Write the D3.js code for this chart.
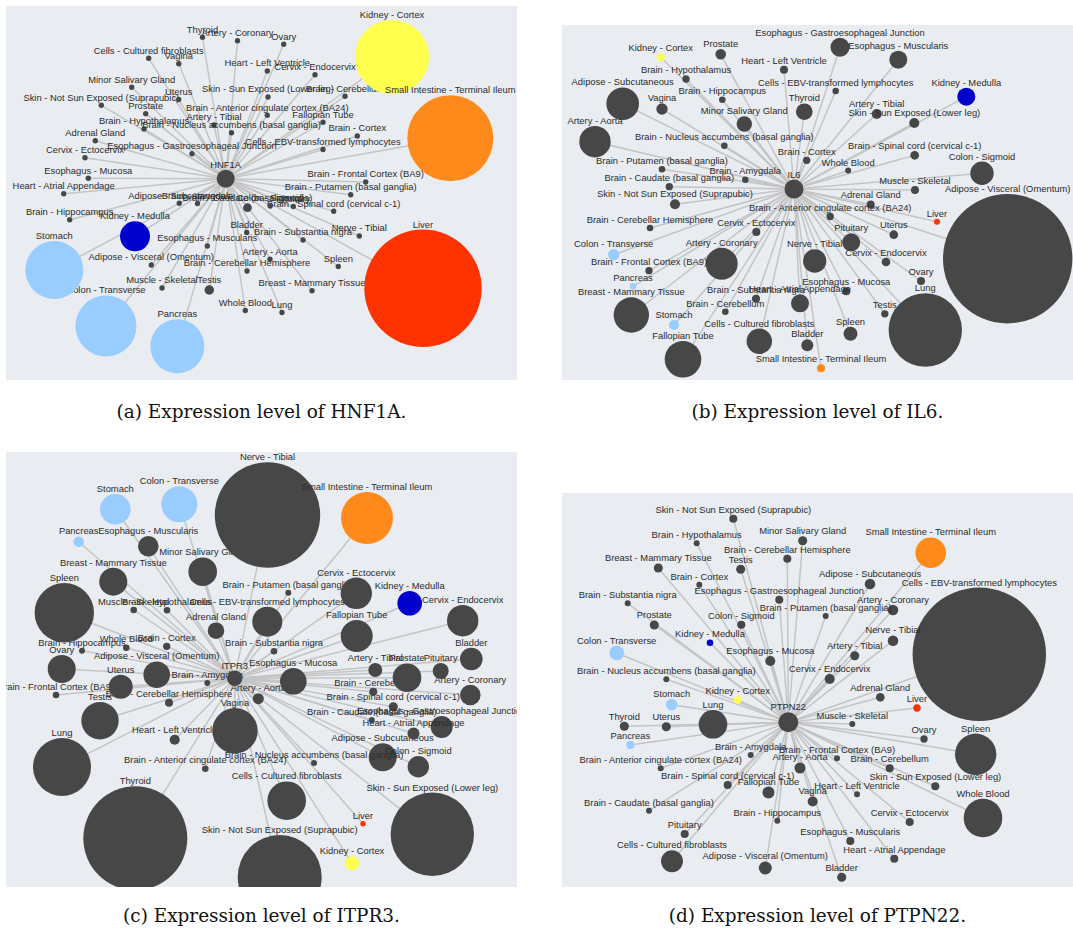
<!DOCTYPE html>
<html><head><meta charset="utf-8">
<script src="https://cdn.jsdelivr.net/npm/d3@7/dist/d3.min.js"></script>
<style>html,body{margin:0;padding:0;background:#fff;}svg{display:block;}</style>
</head><body>
<svg id="chart" width="1073" height="930"></svg>
<script>
// ---------------- DATA ----------------
const tissues = [
 "Adipose - Subcutaneous","Adipose - Visceral (Omentum)","Adrenal Gland","Artery - Aorta","Artery - Coronary",
 "Artery - Tibial","Bladder","Brain - Amygdala","Brain - Anterior cingulate cortex (BA24)","Brain - Caudate (basal ganglia)",
 "Brain - Cerebellar Hemisphere","Brain - Cerebellum","Brain - Cortex","Brain - Frontal Cortex (BA9)","Brain - Hippocampus",
 "Brain - Hypothalamus","Brain - Nucleus accumbens (basal ganglia)","Brain - Putamen (basal ganglia)","Brain - Spinal cord (cervical c-1)","Brain - Substantia nigra",
 "Breast - Mammary Tissue","Cells - EBV-transformed lymphocytes","Cells - Cultured fibroblasts","Cervix - Ectocervix","Cervix - Endocervix",
 "Colon - Sigmoid","Colon - Transverse","Esophagus - Gastroesophageal Junction","Esophagus - Mucosa","Esophagus - Muscularis",
 "Fallopian Tube","Heart - Atrial Appendage","Heart - Left Ventricle","Kidney - Cortex","Kidney - Medulla",
 "Liver","Lung","Minor Salivary Gland","Muscle - Skeletal","Nerve - Tibial",
 "Ovary","Pancreas","Pituitary","Prostate","Skin - Not Sun Exposed (Suprapubic)",
 "Skin - Sun Exposed (Lower leg)","Small Intestine - Terminal Ileum","Spleen","Stomach","Testis",
 "Thyroid","Uterus","Vagina","Whole Blood"
];

const genes = ["HNF1A", "IL6", "ITPR3", "PTPN22"];
const captions = ["(a) Expression level of HNF1A.", "(b) Expression level of IL6.",
                  "(c) Expression level of ITPR3.", "(d) Expression level of PTPN22."];

// hub (gene) node layout coordinates
const hubX = [219.7, 232, 228.7, 226.3];
const hubY = [172.7, 164, 226.3, 229.3];

// HNF1A layout + expression
const hnf1aX = [173.3,145.3,89.3,264,231.5,208,240.7,191.5,261.3,241.5,241,339,351.3,359.7,63.7,138,225.5,344.7,327.7,297,
 306,317,142.7,79,309,264.2,100,186,82.3,201.3,317,57.7,261.3,386,129,417,276,125.7,156,353.3,
 277.7,171.3,287.3,139.7,95.3,262,444.3,332.3,48.3,203.3,196.5,172.7,172.8,239.3];
const hnf1aY = [197.3,259,134.7,253.3,34.7,119,226.5,197.5,109.2,201.7,265,90.3,130,176,213.7,123,126.7,188.7,205.3,234,
 284.7,143.5,52.3,151.7,68.7,200,320,147.7,172.3,240,116.3,187.7,65,51,230.3,282.3,306.5,81.3,282,230,
 38.3,340.3,200.5,107.7,99.3,91,132.3,260.5,264,284,31.3,93.5,57.8,304.5];
const hnf1aExpr = [0.8,0.8,0.8,0.8,0.8,0.8,0.8,0.8,0.8,2.1,0.8,0.8,0.8,0.8,0.8,0.8,0.8,0.8,0.8,0.8,
 0.8,0.8,0.8,0.8,0.8,0.8,103.4,0.8,0.8,0.8,0.8,0.8,0.8,152.1,25,382.9,0.8,0.8,0.8,0.8,
 0.8,81,0.8,0.8,0.8,0.8,205.4,0.8,93.4,2.5,0.8,0.8,0.8,0.8];

// IL6
const il6X = [60.7,445.7,308.7,33,159.7,314.7,245.3,183.3,268.2,107.3,88,163.3,244.7,87,160.3,124,162.3,100,352.7,194,
 69.3,273.7,197.3,194.3,324,420,51.7,278,284.3,336.3,121,238,222,98.7,404.3,375,363.3,182.3,353,252.7,
 359,71,289.2,158.7,113,352.3,259,288.5,112,322.8,242.3,331.8,100,286.2];
const il6Y = [78.7,233.7,179.5,116.7,238.7,89,320.3,154.7,191.5,161.7,203,286.8,135.3,245.7,74.7,54,120.7,144.3,130.3,273.7,
 290,66,316.3,207,237,148.3,229.7,22.3,266.3,34.7,334.3,278.3,44.7,32.3,71.7,196.7,305,99,165,236,
 256,261.3,217.3,29.3,179.3,98,343.3,308.8,300,288.8,86.7,209.7,84,145.5];
const il6Expr = [29.5,465.1,1.8,27.4,28.4,2.8,4,1.2,1.5,1.5,1.2,1.2,1.5,1.5,1.2,1.5,1.2,1.2,2.1,1.8,
 34.8,1.2,17.9,1.8,2.1,15.2,3.6,10,1.8,9,37.2,9,1.8,1.8,9,1,149.7,6.6,1.8,15.2,
 1.8,1.2,9,3.1,2.8,2.8,1.8,5.4,2.8,1.5,7.7,2.1,3.6,1];

// ITPR3
const itpr3X = [376.7,150.7,210,252.3,464.3,369.3,465.3,201.3,199.3,365.8,163,367.3,160.7,50,76,161,308,282.3,387.3,268,
 107.3,261.3,280.7,350.3,456.7,412.3,173.3,435.7,287.3,142.3,350.7,407.5,168.7,346,403.7,357,56,196.7,127.7,261.5,
 55.7,72.7,434.7,401,273.7,426.3,361,58.3,109.3,94,129.3,114.7,229,120.3];
const itpr3Y = [305.3,222.7,178.7,246.7,243,218,207,231,316.7,268,250.7,239.7,194.3,243,198.7,158.3,311,140.7,254.7,199.3,
 129.7,169.7,348.7,141.3,168.7,314.7,52.3,275,229.3,94.3,184,281.5,287.7,411.3,151.3,371.7,315,119.7,158,63,
 217,89.7,219,225.7,425,382.3,66,160.7,57.3,268.7,386.3,234.7,278.7,195.7];
const itpr3Expr = [21.8,19.7,7.7,3.4,11.8,5.4,14.2,1,1.2,1,1.8,1.8,1.5,1.2,1,1.2,1,1,2.3,1.2,
 21.8,25,41.4,27.4,27.4,12.7,36,13.4,19.7,11.8,28.4,4,2.8,5.4,16.8,0.8,93.4,22.7,1.2,308.6,
 21.8,3.1,7.1,22.7,196,193.2,75.1,98,26,38.9,300.4,16,57.3,1.2];

// PTPN22
const ptpn22X = [308,203.3,318.3,238,331,292.7,279.7,188.7,98.7,87,225.3,327.7,137.3,275,215.3,134.7,104.3,263.7,165.7,65.7,
 96.3,417.3,110,347.7,267.7,179.3,54.7,217.3,208.3,288.3,206.5,332.3,295,175.7,148,355,151,240.7,290.3,331,
 362,68.3,122.7,92.3,171.3,373.3,368.7,413.7,109.7,178.7,62.3,104.3,250.7,421];
const ptpn22Y = [91,375,204.3,275,117,162.7,384.3,262,275.3,317.7,65.7,275.3,91.7,265.3,327.7,50.3,186.3,123,292,110.3,
 75,161.3,368.3,329,186,131.7,160,106.7,168,348,299.5,365.7,301.3,207,149.7,215,231.3,47.7,231,147.7,
 246,252,341,132,25.7,293.3,59.7,261.3,211.7,76.3,233.3,233.7,308.5,325];
const ptpn22Expr = [3.1,4.7,2.1,3.4,3.1,2.3,2.3,1,1,1,1.8,1.8,1,1,1,1,1,1,1.8,1,
 2.3,494.3,13.4,1.8,2.8,1.8,5.9,1.8,2.8,1.8,4,1.8,1,1.5,1.2,1.5,22.7,2.3,1,3.1,
 1.5,1.8,1.8,2.3,1.8,1.8,26,47.6,3.6,2.3,2.3,2.3,2.8,41.4];

// ---------------- STYLE / LAYOUT ----------------
const panels = [
  {x: 6,   y: 6,   w: 511, h: 374, capY: 418, hubR: 9,   X: hnf1aX,  Y: hnf1aY,  V: hnf1aExpr},
  {x: 562, y: 25,  w: 511, h: 355, capY: 418, hubR: 9.5, X: il6X,    Y: il6Y,    V: il6Expr},
  {x: 6,   y: 452, w: 511, h: 435, capY: 922, hubR: 7.7, X: itpr3X,  Y: itpr3Y,  V: itpr3Expr},
  {x: 562, y: 493, w: 511, h: 394, capY: 922, hubR: 10,  X: ptpn22X, Y: ptpn22Y, V: ptpn22Expr}
];
const tissueColor = {
  "Liver": "#ff3300",
  "Kidney - Cortex": "#ffff4d",
  "Kidney - Medulla": "#0000cc",
  "Small Intestine - Terminal Ileum": "#ff8a1c",
  "Stomach": "#99ccff",
  "Colon - Transverse": "#99ccff",
  "Pancreas": "#99ccff"
};
const nodeGray = "#474747";
const labelFont = "'Liberation Sans', Arial, sans-serif";
const capFont = "'DejaVu Serif', serif";

const svg = d3.select("#chart");
const defs = svg.append("defs");
const rScale = d3.scaleSqrt().domain([0, 1]).range([0, 3]);

// measure helpers to match the reference text widths
function measure(txt, family, size) {
  const t = svg.append("text").attr("font-family", family).attr("font-size", size).text(txt);
  const w = t.node().getComputedTextLength();
  t.remove();
  return w;
}
const labelSize = 10 * ((131 / measure("Small Intestine - Terminal Ileum", labelFont, 10)) +
                        (156 / measure("Skin - Not Sun Exposed (Suprapubic)", labelFont, 10))) / 2;
const capSize = 20 * 290 / measure(captions[0], capFont, 20);

panels.forEach((p, pi) => {
  const xs = d3.scaleLinear().domain([0, p.w]).range([p.x, p.x + p.w]);
  const ys = d3.scaleLinear().domain([0, p.h]).range([p.y, p.y + p.h]);

  defs.append("clipPath").attr("id", "clip" + pi)
    .append("rect").attr("x", p.x).attr("y", p.y).attr("width", p.w).attr("height", p.h);

  const g = svg.append("g").attr("clip-path", `url(#clip${pi})`);
  g.append("rect").attr("x", p.x).attr("y", p.y).attr("width", p.w).attr("height", p.h)
    .attr("fill", "#e9edf2");

  const nodes = tissues.map((t, i) => ({name: t, x: xs(p.X[i]), y: ys(p.Y[i]), r: rScale(p.V[i])}));
  const hub = {name: genes[pi], x: xs(hubX[pi]), y: ys(hubY[pi]), r: p.hubR};

  g.append("g").selectAll("line").data(nodes).join("line")
    .attr("x1", hub.x).attr("y1", hub.y)
    .attr("x2", d => d.x).attr("y2", d => d.y)
    .attr("stroke", "#c4c4c4").attr("stroke-width", 1.5);

  const ng = g.append("g").selectAll("g").data(nodes.concat([hub])).join("g");
  ng.append("circle")
    .attr("cx", d => d.x).attr("cy", d => d.y).attr("r", d => d.r)
    .attr("fill", d => tissueColor[d.name] || nodeGray);
  ng.append("text")
    .attr("x", d => d.x).attr("y", d => d.y - d.r - 2)
    .attr("text-anchor", "middle")
    .attr("font-family", labelFont).attr("font-size", labelSize)
    .attr("fill", "#2b2b2b")
    .text(d => d.name);

  svg.append("text")
    .attr("x", p.x + p.w / 2).attr("y", p.capY)
    .attr("text-anchor", "middle")
    .attr("font-family", capFont).attr("font-size", capSize)
    .attr("fill", "#111")
    .text(captions[pi]);
});
</script>
</body></html>
